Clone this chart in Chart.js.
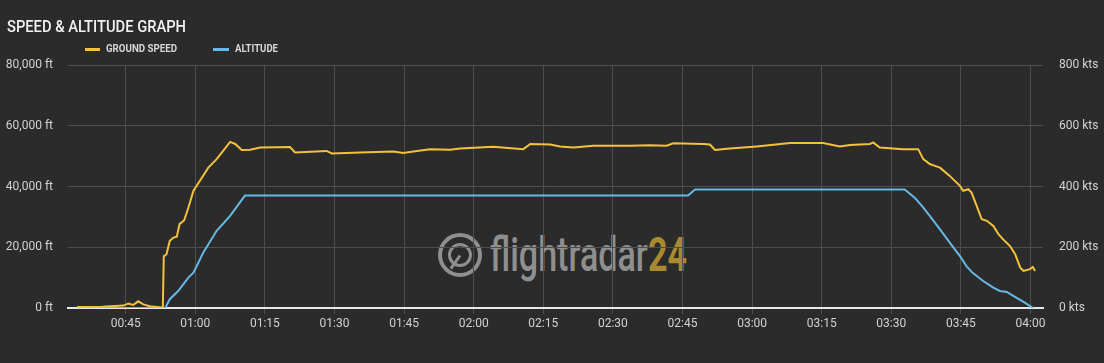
<!DOCTYPE html>
<html>
<head>
<meta charset="utf-8">
<script src="https://cdn.jsdelivr.net/npm/chart.js@4.4.1/dist/chart.umd.min.js"></script>
<style>
  html, body { margin: 0; padding: 0; background: #2b2b2b; }
  #wrap { position: relative; width: 1104px; height: 363px; overflow: hidden; background: #2b2b2b; }
  #chart { position: absolute; left: 0; top: 0; z-index: 2; }
  .title { position: absolute; left: 7px; top: 19px; font: 500 16px/16px Roboto, sans-serif; color: #f2f2f2; z-index: 3; white-space: nowrap; transform-origin: 0 0; }
  .leg { position: absolute; top: 42.6px; font: 700 11.5px/11.5px Roboto, sans-serif; color: #d6d6d6; z-index: 3; white-space: nowrap; transform-origin: 0 0; }
  .sw { position: absolute; height: 2.5px; z-index: 3; }
  .wm { position: absolute; left: 490px; top: 231.3px; font: 500 48px/48px Roboto, sans-serif; color: #8f8f8f; z-index: 1; white-space: nowrap; transform-origin: 0 0; }
  .wm span { color: #a98a2f; font-weight: 700; }
  .ring { position: absolute; border-radius: 50%; border-style: solid; border-color: #8f8f8f; z-index: 1; box-sizing: border-box; }
  .sweep { position: absolute; z-index: 1; background: #8f8f8f; height: 3px; transform-origin: 0 50%; }
</style>
</head>
<body>
<div id="wrap">
  <div class="ring" style="left:438px;top:233px;width:44px;height:44px;border-width:4px;"></div>
  <div class="ring" style="left:448px;top:243px;width:24px;height:24px;border-width:3px;"></div>
  <div class="sweep" style="left:460px;top:254px;width:16px;transform:rotate(125deg);"></div>
  <div class="wm" id="wm">flightradar<span>24</span></div>
  <canvas id="chart" width="1104" height="363"></canvas>
  <div class="title" id="title">SPEED &amp; ALTITUDE GRAPH</div>
  <div class="sw" style="left:85px;top:48px;width:15px;background:#f2c23c;"></div>
  <div class="leg" id="leg1" style="left:106px;">GROUND SPEED</div>
  <div class="sw" style="left:213px;top:48px;width:16px;background:#66b9e6;"></div>
  <div class="leg" id="leg2" style="left:235px;">ALTITUDE</div>
</div>
<script>
// ---- data (time in minutes after 00:00) ----
const speedMin = [34.5, 40, 44.5, 45.6, 46.6, 47.7, 48.8, 50.2, 52.8, 53.0, 53.2, 53.8, 54.5, 55.3, 56.0, 56.6, 57.6, 58.5, 59.6, 61.0, 62.8, 64.6, 66.0, 67.5, 68.6, 70.0, 71.8, 74.0, 80.4, 81.5, 88.3, 89.4, 95.5, 102.7, 104.8, 107.0, 110.6, 114.9, 117.1, 124.2, 130.7, 132.2, 136.5, 138.6, 141.5, 145.8, 153.7, 157.9, 161.6, 163.0, 169.5, 170.9, 172.0, 175.2, 181.0, 188.2, 195.3, 198.9, 201.1, 205.4, 206.1, 207.5, 212.5, 215.8, 216.9, 218.3, 219.4, 220.5, 222.6, 224.8, 225.5, 226.6, 227.3, 228.4, 229.5, 230.6, 232.0, 233.1, 234.1, 235.6, 236.7, 237.8, 238.5, 239.9, 240.5, 241.0];
const speedKts = [3, 4, 8, 15, 10, 22, 12, 6, 2, 2, 170, 177, 221, 232, 235, 276, 289, 330, 386, 419, 462, 490, 517, 547, 540, 520, 521, 528, 530, 512, 517, 509, 512, 515, 510, 515, 523, 521, 525, 531, 523, 540, 538, 532, 528, 534, 534, 536, 534, 542, 540, 538, 520, 525, 532, 543, 543, 532, 537, 540, 545, 528, 523, 523, 490, 474, 468, 462, 435, 402, 386, 391, 380, 336, 292, 287, 270, 243, 226, 204, 177, 133, 122, 128, 135, 122];
const altMin = [34.5, 53.5, 54.5, 56.3, 58.5, 59.6, 61.7, 64.6, 67.5, 70.7, 166.2, 167.7, 212.9, 215.1, 216.6, 218.3, 220.5, 222.6, 224.8, 226.2, 227.6, 229.8, 232.0, 233.4, 234.9, 236.3, 238.5, 240.6];
const altFt = [0, 0, 2900, 5600, 10000, 11600, 18200, 25400, 30300, 37000, 37000, 39000, 39000, 36200, 33600, 30300, 25900, 21500, 17100, 13800, 11500, 8900, 6700, 5600, 5300, 4000, 2000, 0];
const tickMinutes = [45, 60, 75, 90, 105, 120, 135, 150, 165, 180, 195, 210, 225, 240];
const tickLabels = ['00:45', '01:00', '01:15', '01:30', '01:45', '02:00', '02:15', '02:30', '02:45', '03:00', '03:15', '03:30', '03:45', '04:00'];
const altTicks = [0, 20000, 40000, 60000, 80000];
const altTickLabels = ['0 ft', '20,000 ft', '40,000 ft', '60,000 ft', '80,000 ft'];
const speedTicks = [0, 200, 400, 600, 800];
const speedTickLabels = ['0 kts', '200 kts', '400 kts', '600 kts', '800 kts'];

// fit condensed texts
function fit(id, w) {
  const el = document.getElementById(id);
  const r = el.getBoundingClientRect().width;
  el.style.transform = 'scaleX(' + (w / r) + ')';
}
fit('title', 179); fit('leg1', 71); fit('leg2', 43); fit('wm', 197);

const tickFont = { family: 'Roboto', size: 12 };
const tickColor = '#d2d2d2';
const gridColor = '#4e4e4e';

new Chart(document.getElementById('chart'), {
  type: 'line',
  data: {
    datasets: [
      {
        label: 'GROUND SPEED',
        data: speedMin.map((t, i) => ({ x: t, y: speedKts[i] })),
        yAxisID: 'ySpeed',
        borderColor: '#f2c23c',
        borderWidth: 2,
        pointRadius: 0,
        tension: 0
      },
      {
        label: 'ALTITUDE',
        data: altMin.map((t, i) => ({ x: t, y: altFt[i] })),
        yAxisID: 'yAlt',
        borderColor: '#66b9e6',
        borderWidth: 2,
        pointRadius: 0,
        tension: 0
      }
    ]
  },
  options: {
    responsive: false,
    animation: false,
    layout: { padding: { top: 65, left: 0, right: 0, bottom: 0 } },
    plugins: { legend: { display: false }, title: { display: false }, tooltip: { enabled: false } },
    scales: {
      x: {
        type: 'linear',
        min: 32.56,
        max: 242.7,
        afterBuildTicks: s => { s.ticks = tickMinutes.map(v => ({ value: v })); },
        afterFit: s => { s.height = 55; },
        ticks: {
          autoSkip: false, maxRotation: 0, color: tickColor, font: tickFont, padding: 3,
          callback: v => tickLabels[tickMinutes.indexOf(v)]
        },
        grid: { color: gridColor, tickColor: gridColor, tickLength: 6, drawTicks: true },
        border: { display: true, color: '#e4eaee', width: 2 }
      },
      yAlt: {
        position: 'left',
        min: 0, max: 80000,
        afterBuildTicks: s => { s.ticks = altTicks.map(v => ({ value: v })); },
        afterFit: s => { s.width = 68; },
        ticks: { color: tickColor, font: tickFont, padding: 15, callback: v => altTickLabels[altTicks.indexOf(v)] },
        grid: { color: gridColor, drawTicks: false },
        border: { display: false }
      },
      ySpeed: {
        position: 'right',
        min: 0, max: 800,
        afterBuildTicks: s => { s.ticks = speedTicks.map(v => ({ value: v })); },
        afterFit: s => { s.width = 61; },
        ticks: { color: tickColor, font: tickFont, padding: 16, callback: v => speedTickLabels[speedTicks.indexOf(v)] },
        grid: { display: false, drawTicks: false },
        border: { display: false }
      }
    }
  }
});
</script>
</body>
</html>
